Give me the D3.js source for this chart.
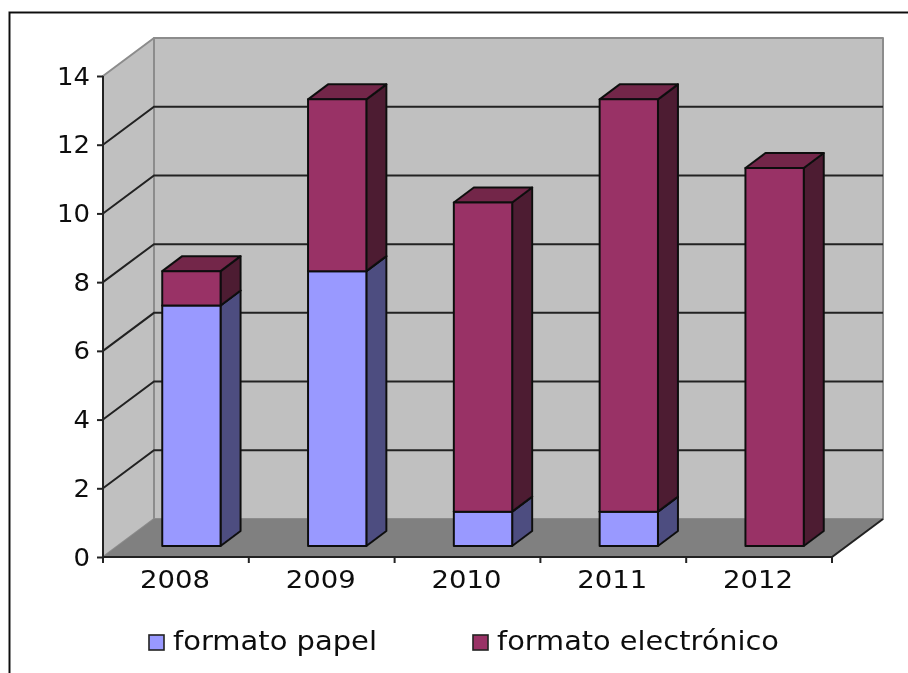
<!DOCTYPE html>
<html>
<head>
<meta charset="utf-8">
<script src="https://cdn.jsdelivr.net/npm/d3@7"></script>
<style>
html, body { margin: 0; padding: 0; background: #fff; overflow: hidden; }
svg { display: block; }
text { font-family: "DejaVu Sans", sans-serif; fill: #111; }
</style>
</head>
<body>
<script>
var years = ["2008", "2009", "2010", "2011", "2012"];
var papel = [7, 8, 1, 1, 0];
var electronico = [1, 5, 9, 12, 11];
var yTicks = [0, 2, 4, 6, 8, 10, 12, 14];
var seriesNames = ["formato papel", "formato electrónico"];

var width = 908, height = 673;

var svg = d3.select("body").append("svg")
	.attr("width", width)
	.attr("height", height);

// Slight softening, the reference is a scaled up bitmap
svg.append("filter")
	.attr("id", "soft")
	.attr("filterUnits", "userSpaceOnUse")
	.attr("x", 0).attr("y", 0)
	.attr("width", width).attr("height", height)
	.append("feGaussianBlur")
		.attr("stdDeviation", 0.5);

var root = svg.append("g").attr("filter", "url(#soft)");

// Outer frame, runs off the right and bottom of the picture
root.append("path")
	.attr("d", "M9.5,700V12.5H930")
	.attr("fill", "none")
	.attr("stroke", "#111")
	.attr("stroke-width", 2);

var x = d3.scaleBand().domain(years).range([103, 832]).paddingInner(0.6).paddingOuter(0.3);
var y = d3.scaleLinear().domain([0, 14]).range([557, 76]);

// Depth of the 3D box, and of the bars standing in it
var depthX = 51, depthY = -38;
var barShiftX = 15.5, barShiftY = -11;
var barDepthX = 20, barDepthY = -15;

var line = d3.line();

function poly(points, fill, stroke, sw) {
	return root.append("path")
		.attr("d", line(points) + "Z")
		.attr("fill", fill)
		.attr("stroke", stroke || "none")
		.attr("stroke-width", sw || 0)
		.attr("stroke-linejoin", "round");
}

var x0 = x.range()[0], x1 = x.range()[1];
var yBase = y(0), yTop = y(14);

// Walls and floor
poly([[x0 + depthX, yTop + depthY], [x1 + depthX, yTop + depthY], [x1 + depthX, yBase + depthY], [x0 + depthX, yBase + depthY]], "#c0c0c0", "#8c8c8c", 2);
poly([[x0, yTop], [x0 + depthX, yTop + depthY], [x0 + depthX, yBase + depthY], [x0, yBase]], "#c0c0c0", "#8c8c8c", 2);
poly([[x0, yBase], [x0 + depthX, yBase + depthY], [x1 + depthX, yBase + depthY], [x1, yBase]], "#808080");

// Gridlines go along the left wall, then across the back wall
yTicks.filter(function(d) { return d > 0 && d < 14; }).forEach(function(d) {
	root.append("path")
		.attr("d", line([[x0, y(d)], [x0 + depthX, y(d) + depthY], [x1 + depthX, y(d) + depthY]]))
		.attr("fill", "none")
		.attr("stroke", "#222")
		.attr("stroke-width", 2);
});

// Axes
root.append("path")
	.attr("d", line([[x1 + depthX, yBase + depthY], [x1, yBase], [x0, yBase], [x0, yTop]]))
	.attr("fill", "none")
	.attr("stroke", "#222")
	.attr("stroke-width", 2);

var axisLeft = root.append("g")
	.attr("transform", "translate(" + x0 + ",0)")
	.call(d3.axisLeft(y).tickValues(yTicks).tickSize(6).tickPadding(7));
var axisBottom = root.append("g")
	.attr("transform", "translate(-1," + yBase + ")")
	.call(d3.axisBottom(x).tickSize(0).tickPadding(13));

axisLeft.select(".domain").remove();
axisBottom.select(".domain").remove();
axisLeft.selectAll("line").attr("stroke", "#222").attr("stroke-width", 2);
axisLeft.selectAll("text")
	.attr("font-size", 25)
	.attr("font-family", "DejaVu Sans")
	.attr("fill", "#111")
	.attr("lengthAdjust", "spacingAndGlyphs")
	.attr("textLength", function(d) { return String(d).length * 16.5; });
axisBottom.selectAll("text")
	.attr("font-size", 25)
	.attr("font-family", "DejaVu Sans")
	.attr("fill", "#111")
	.attr("lengthAdjust", "spacingAndGlyphs")
	.attr("textLength", 70);

// Category ticks sit between the bars
var step = x.step();
d3.range(years.length + 1).forEach(function(i) {
	root.append("line")
		.attr("x1", x0 + i * step).attr("x2", x0 + i * step)
		.attr("y1", yBase).attr("y2", yBase + 6)
		.attr("stroke", "#222")
		.attr("stroke-width", 2);
});

// Stacked bars
var stackSeries = [
	{ values: papel, front: "#9999ff", side: "#4d4d80", top: "#7373bf" },
	{ values: electronico, front: "#993366", side: "#4d1a33", top: "#732649" }
];

years.forEach(function(year, i) {
	var total = 0;
	stackSeries.forEach(function(s) {
		var v = s.values[i];
		if (v === 0) { return; }
		var left = x(year) + barShiftX, right = left + x.bandwidth();
		var low = y(total) + barShiftY, high = y(total + v) + barShiftY;
		total += v;
		poly([[right, low], [right + barDepthX, low + barDepthY], [right + barDepthX, high + barDepthY], [right, high]], s.side, "#111", 2);
		poly([[left, high], [right, high], [right + barDepthX, high + barDepthY], [left + barDepthX, high + barDepthY]], s.top, "#111", 2);
		poly([[left, low], [right, low], [right, high], [left, high]], s.front, "#111", 2);
	});
});

// Legend
var legendX = [149, 473];
var legendWidths = [204, 282];
seriesNames.forEach(function(name, i) {
	root.append("rect")
		.attr("x", legendX[i]).attr("y", 635)
		.attr("width", 15).attr("height", 15)
		.attr("fill", stackSeries[i].front)
		.attr("stroke", "#222")
		.attr("stroke-width", 1.6);
	root.append("text")
		.attr("x", legendX[i] + 24).attr("y", 650)
		.attr("font-size", 27)
		.attr("lengthAdjust", "spacingAndGlyphs")
		.attr("textLength", legendWidths[i])
		.text(name);
});
</script>
</body>
</html>
